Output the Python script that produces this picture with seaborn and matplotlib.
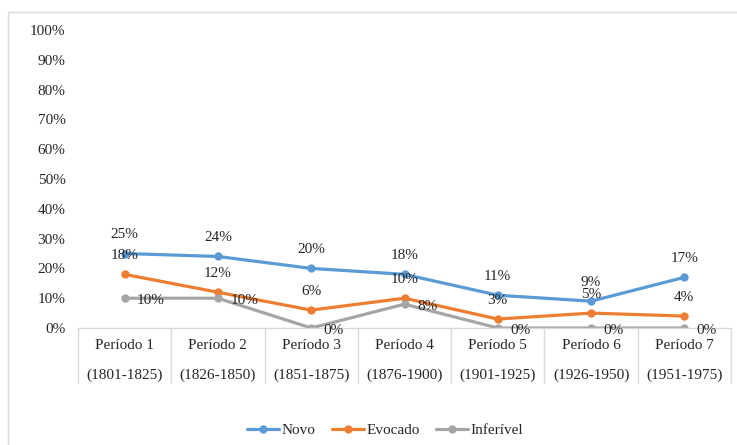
import matplotlib
matplotlib.use('Agg')
import matplotlib.pyplot as plt
import seaborn as sns
import pandas as pd
from matplotlib.ticker import PercentFormatter
from matplotlib.lines import Line2D

periods = ['Período 1', 'Período 2', 'Período 3', 'Período 4', 'Período 5', 'Período 6', 'Período 7']
years = ['(1801-1825)', '(1826-1850)', '(1851-1875)', '(1876-1900)', '(1901-1925)', '(1926-1950)', '(1951-1975)']
novo = [25, 24, 20, 18, 11, 9, 17]
evocado = [18, 12, 6, 10, 3, 5, 4]
inferivel = [10, 10, 0, 8, 0, 0, 0]
series = ['Novo', 'Evocado', 'Inferível']
colors = ['#5B9BD5', '#ED7D31', '#A5A5A5']

rows = []
for name, vals in zip(series, [novo, evocado, inferivel]):
    for i, v in enumerate(vals):
        rows.append({'pos': i, 'valor': v, 'serie': name})
df = pd.DataFrame(rows)

sns.set_style('white')
plt.rcParams['font.family'] = ['Liberation Serif', 'DejaVu Serif']

fig = plt.figure(figsize=(7.37, 4.45), dpi=100)
ax = fig.add_axes([78 / 737, 117 / 445, 653 / 737, 298 / 445])

sns.lineplot(data=df, x='pos', y='valor', hue='serie', hue_order=series,
             palette=colors, marker='o', markersize=6, markeredgewidth=0,
             linewidth=2.3, legend=False, ax=ax)

# data labels
for name, vals in zip(series, [novo, evocado, inferivel]):
    for i, v in enumerate(vals):
        if name == 'Inferível':
            ax.annotate(f'{v}%', (i, v), xytext=(9, -2), textcoords='offset points',
                        ha='left', va='center', fontsize=11, color='#262626')
        else:
            ax.annotate(f'{v}%', (i, v), xytext=(0, 13.5), textcoords='offset points',
                        ha='center', va='center', fontsize=11, color='#262626')

ax.set_xlim(-0.5, 6.5)
ax.set_ylim(0, 100)
ax.set_yticks(range(0, 101, 10))
ax.yaxis.set_major_formatter(PercentFormatter(decimals=0))
ax.set_xticks(range(7))
ax.set_xticklabels([f'{p}\n{y}' for p, y in zip(periods, years)], linespacing=2.55)
ax.set_xticks([k - 0.5 for k in range(8)], minor=True)
ax.tick_params(axis='x', which='major', length=0, pad=8, labelsize=11, labelcolor='#262626')
# category separators drawn as long minor ticks
ax.tick_params(axis='x', which='minor', bottom=True, length=39.5, width=1, color='#D9D9D9')
ax.tick_params(axis='y', length=0, pad=9, labelsize=11, labelcolor='#262626')
ax.set_xlabel('')
ax.set_ylabel('')
for s in ['top', 'right', 'left']:
    ax.spines[s].set_visible(False)
ax.spines['bottom'].set_color('#D9D9D9')
ax.spines['bottom'].set_linewidth(1)

handles = [Line2D([0], [0], color=c, lw=2.3, marker='o', markersize=6, markeredgewidth=0)
           for c in colors]
fig.legend(handles, series, loc='center', bbox_to_anchor=(385 / 737, 15 / 445), ncol=3,
           frameon=False, fontsize=11, handlelength=2.1, handletextpad=0.15, columnspacing=1.1)

# outer chart border (only top and left visible)
fig.add_artist(Line2D([8 / 737, 1], [1 - 12 / 445, 1 - 12 / 445], transform=fig.transFigure,
                      color='#D9D9D9', lw=1))
fig.add_artist(Line2D([8 / 737, 8 / 737], [0, 1 - 12 / 445], transform=fig.transFigure,
                      color='#D9D9D9', lw=1))

fig.savefig('out.png', dpi=100)
